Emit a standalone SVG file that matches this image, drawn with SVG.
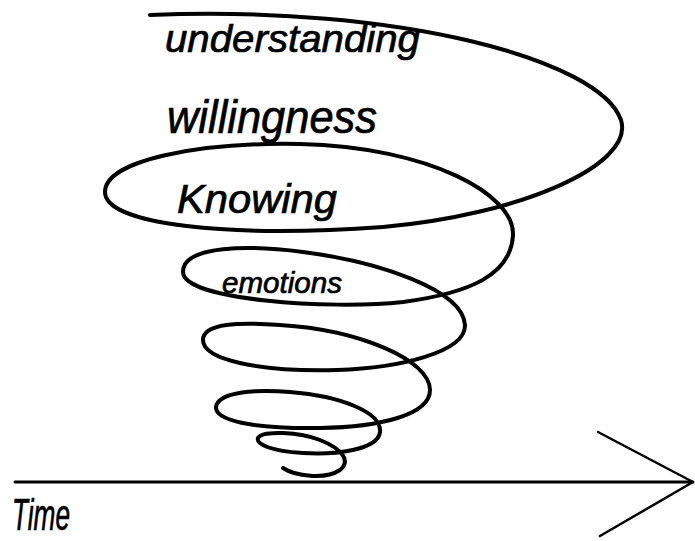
<svg xmlns="http://www.w3.org/2000/svg" width="695" height="541" viewBox="0 0 695 541">
<style>
.ink{fill:none;stroke:#000;stroke-linecap:round;stroke-linejoin:round}
.lbl{font-family:"Liberation Sans","DejaVu Sans",sans-serif;font-style:italic;fill:#000;stroke:#000;stroke-width:0.7}
</style>
<rect width="695" height="541" fill="#fff"/>
<g id="connectors">
<path id="spiral" class="ink" stroke-width="4" d="M150,15 C400,5 600,60 621,120 C635,165 520,215 383,227 C230,238 105,225 105,192 C105,160 200,142 300,144 C430,147 515,195 513,235 C511,275 470,293 403,302 C330,310 183,300 183,272 C183,245 250,245 303,252 C380,262 463,290 465,325 C466,352 400,368 337,370 C260,372 203,360 203,340 C203,323 240,322 280,325 C360,330 430,360 430,390 C430,415 380,427 320,428 C250,429 215,420 216,407 C218,392 255,389 290,392 C340,396 382,412 380,432 C378,450 335,455 303,453 C270,451 256,444 258,438 C262,430 300,432 320,440 C345,450 350,462 340,470 C325,480 295,476 283,468"/>
<line id="time-axis" class="ink" stroke-width="3" x1="15" y1="482" x2="693" y2="482"/>
<polyline id="arrowhead" class="ink" stroke-width="2.5" points="598,432 693,482 600,536"/>
</g>
<g id="understanding"><text class="lbl" x="165" y="52" font-size="38" textLength="255" lengthAdjust="spacingAndGlyphs">understanding</text></g>
<g id="willingness"><text class="lbl" x="167" y="133" font-size="46" textLength="210" lengthAdjust="spacingAndGlyphs">willingness</text></g>
<g id="knowing"><text class="lbl" x="177" y="213" font-size="40" textLength="160" lengthAdjust="spacingAndGlyphs">Knowing</text></g>
<g id="emotions"><text class="lbl" x="222" y="293" font-size="30" textLength="120" lengthAdjust="spacingAndGlyphs">emotions</text></g>
<g id="time"><text class="lbl" x="12" y="530" font-size="44" textLength="58" lengthAdjust="spacingAndGlyphs">Time</text></g>
</svg>
